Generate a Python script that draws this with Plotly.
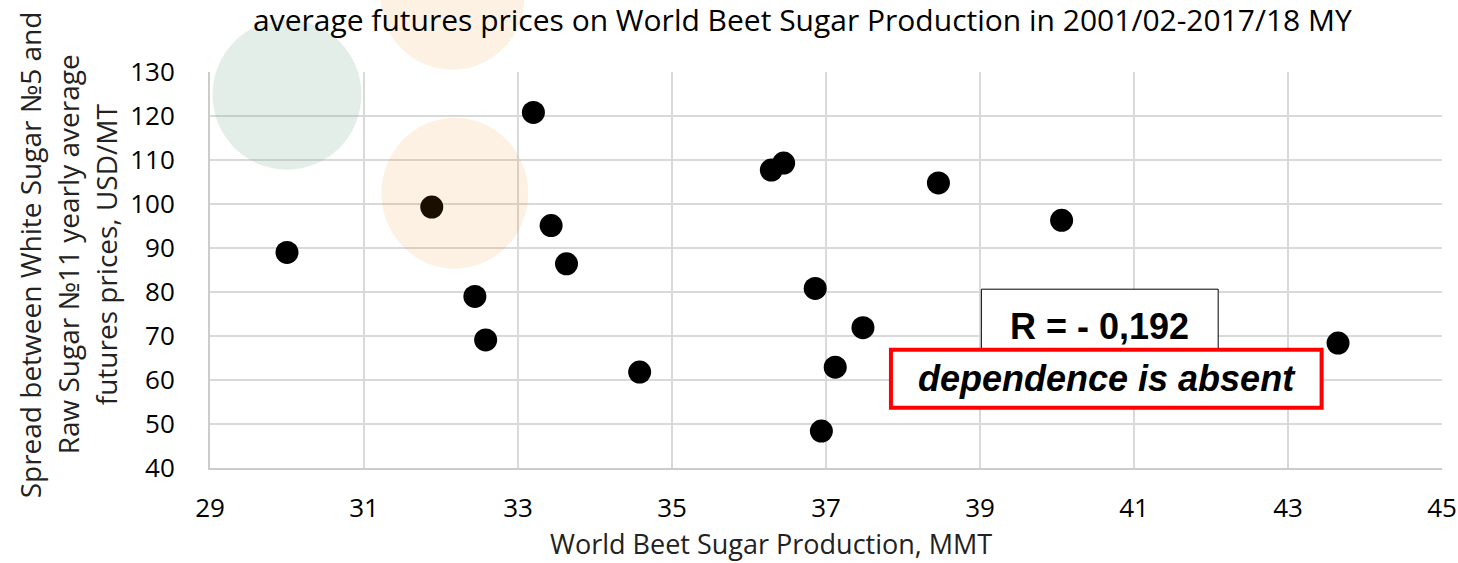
import plotly.graph_objects as go

# World beet sugar production (MMT) vs. white/raw futures spread (USD/MT), 2001/02-2017/18
production = [30.0, 31.88, 32.44, 32.58, 33.2, 33.43, 33.63, 34.58, 36.29, 36.45,
              36.86, 36.94, 37.12, 37.48, 38.46, 40.06, 43.65]
spread = [89.0, 99.3, 79.0, 69.1, 120.8, 95.1, 86.4, 61.8, 107.7, 109.3,
          80.8, 48.4, 62.9, 71.9, 104.8, 96.3, 68.4]

x_ticks = [29, 31, 33, 35, 37, 39, 41, 43, 45]
y_ticks = [40, 50, 60, 70, 80, 90, 100, 110, 120, 130]

title_text = "average futures prices on World Beet Sugar Production in 2001/02-2017/18 MY"
x_title = "World Beet Sugar Production, MMT"
y_title_lines = ["Spread between White Sugar №5 and",
                 "Raw Sugar №11 yearly average",
                 "futures prices, USD/MT"]
r_text = "<b>R = - 0,192</b>"
note_text = "<b><i>dependence is absent</i></b>"

W, H = 1458, 563
L, R, T, B = 209.5, 15.5, 72.3, 94.7
PW, PH = W - L - R, H - T - B


def px(xp):
    return (xp - L) / PW


def py(yp):
    return (H - B - yp) / PH


FONT = "Open Sans"

fig = go.Figure()
fig.add_trace(go.Scatter(
    x=production, y=spread, mode="markers",
    marker=dict(size=23, color="black"),
    showlegend=False, hoverinfo="x+y",
))

shapes = [
    # soft decorative discs
    dict(type="circle", xref="paper", yref="paper", layer="above",
         x0=px(212), x1=px(361), y0=py(170), y1=py(20),
         fillcolor="rgba(121,174,145,0.21)", line=dict(width=0)),
    dict(type="circle", xref="paper", yref="paper", layer="above",
         x0=px(380), x1=px(524), y0=py(70), y1=py(-74),
         fillcolor="rgba(235,125,10,0.11)", line=dict(width=0)),
    dict(type="circle", xref="paper", yref="paper", layer="above",
         x0=px(381), x1=px(528), y0=py(269), y1=py(118),
         fillcolor="rgba(235,125,10,0.11)", line=dict(width=0)),
    # correlation box
    dict(type="rect", xref="paper", yref="paper", layer="above",
         x0=px(981.5), x1=px(1218.5), y0=py(360), y1=py(289.5),
         fillcolor="white", line=dict(color="black", width=1)),
    # conclusion box
    dict(type="rect", xref="paper", yref="paper", layer="above",
         x0=px(891), x1=px(1322), y0=py(408), y1=py(350),
         fillcolor="white", line=dict(color="#ff0000", width=4)),
]

annotations = [
    dict(text=title_text, xref="paper", yref="paper", x=px(802), y=py(20),
         xanchor="center", yanchor="middle", showarrow=False,
         font=dict(family=FONT, size=30, color="black")),
    dict(text=x_title, xref="paper", yref="paper", x=px(771), y=py(544),
         xanchor="center", yanchor="middle", showarrow=False,
         font=dict(family=FONT, size=27, color="#222222")),
    dict(text=r_text, xref="paper", yref="paper", x=px(1100), y=py(327),
         xanchor="center", yanchor="middle", showarrow=False,
         font=dict(family="Liberation Sans", size=36, color="black")),
    dict(text=note_text, xref="paper", yref="paper", x=px(1107), y=py(379),
         xanchor="center", yanchor="middle", showarrow=False,
         font=dict(family="Liberation Sans", size=36, color="black")),
]

# rotated y-axis title, one annotation per line
for line_text, line_x in zip(y_title_lines, [29, 67, 105]):
    annotations.append(dict(
        text=line_text, xref="paper", yref="paper", x=px(line_x), y=py(255),
        xanchor="center", yanchor="middle", showarrow=False, textangle=-90,
        font=dict(family=FONT, size=28, color="#222222")))

fig.update_layout(
    width=W, height=H,
    margin=dict(l=L, r=R, t=T, b=B, pad=0, autoexpand=False),
    paper_bgcolor="white", plot_bgcolor="rgba(0,0,0,0)",
    shapes=shapes, annotations=annotations,
    font=dict(family=FONT, size=25, color="black"),
)
fig.update_xaxes(
    range=[29, 45], tickvals=x_ticks, ticks="outside", ticklen=0,
    ticklabelstandoff=16, automargin=False,
    showgrid=True, gridcolor="#d9d9d9", gridwidth=1.5,
    showline=True, linecolor="#cccccc", linewidth=2,
    zeroline=False, tickfont=dict(family=FONT, size=26, color="black"),
)
fig.update_yaxes(
    range=[40, 130], tickvals=y_ticks, ticks="outside", ticklen=0,
    ticklabelstandoff=28, automargin=False,
    showgrid=True, gridcolor="#d9d9d9", gridwidth=1.5,
    showline=True, linecolor="#cccccc", linewidth=2,
    zeroline=False, tickfont=dict(family=FONT, size=26, color="black"),
)

fig.write_html("out.html")
